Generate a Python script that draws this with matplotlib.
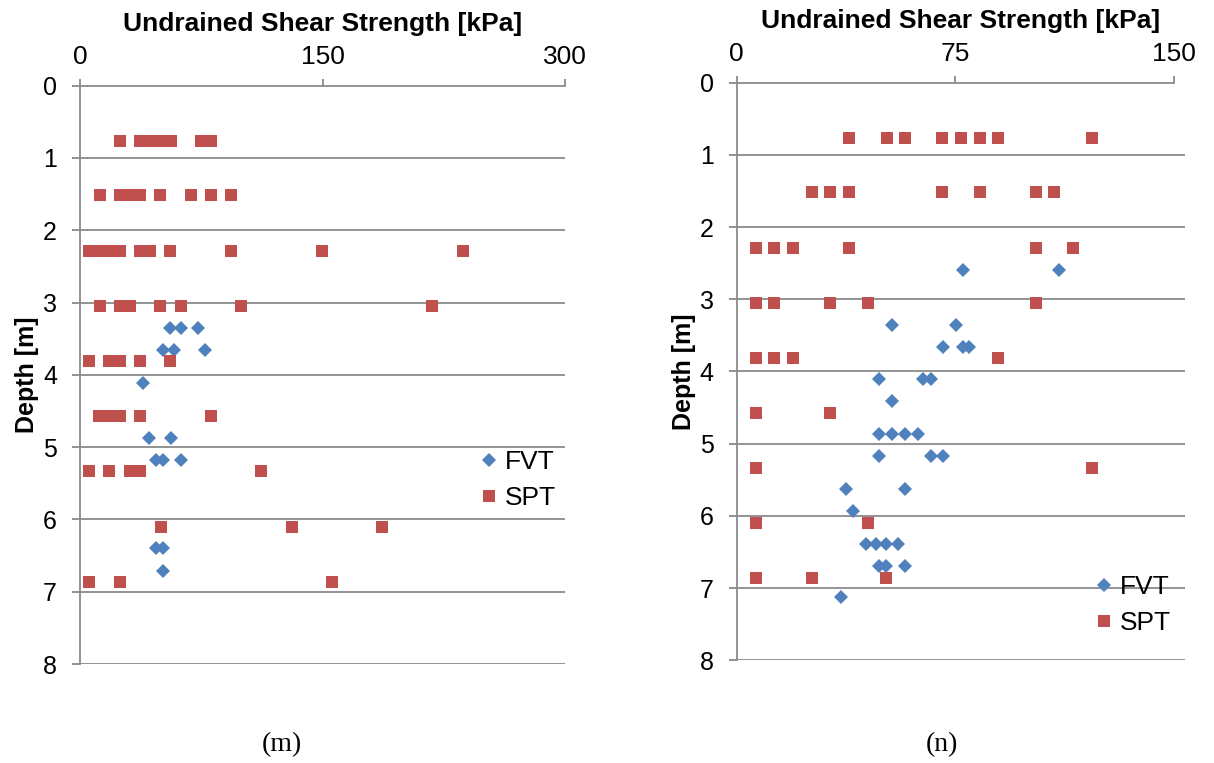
import matplotlib
matplotlib.use("Agg")
import matplotlib.pyplot as plt

plt.rcParams['font.family'] = ['Liberation Sans', 'DejaVu Sans']

# ---------------- data: panel (m) ----------------
m_spt_depth = [0.76]*7 + [1.52]*8 + [2.29]*10 + [3.05]*7 + [3.81]*5 + [4.57]*5 + [5.33]*5 + [6.10]*3 + [6.86]*3
m_spt_su = [25, 37, 43, 49.5, 56, 75, 81,
            12.4, 24.7, 31, 37, 49.5, 68.5, 81, 93.4,
            5.8, 12, 18, 24.7, 37, 43.3, 55.7, 93.4, 149.7, 237,
            12.4, 24.7, 31, 49.5, 62.3, 99.6, 218,
            5.8, 18, 24.7, 37, 55.7,
            12, 18, 24.7, 37, 80.8,
            5.8, 18, 31, 37, 112,
            49.9, 131, 187,
            5.8, 24.7, 156]
m_fvt_depth = [3.35]*3 + [3.66]*3 + [4.11] + [4.88]*2 + [5.18]*3 + [6.40]*2 + [6.71]
m_fvt_su = [55.7, 62.3, 73.2,
            51.5, 58.1, 77.3,
            38.8,
            42.9, 56.1,
            47, 51.5, 62.3,
            47, 51.5,
            51.5]

# ---------------- data: panel (n) ----------------
n_spt_depth = [0.76]*8 + [1.52]*7 + [2.29]*6 + [3.05]*5 + [3.81]*4 + [4.57]*2 + [5.33]*2 + [6.10]*2 + [6.86]*3
n_spt_su = [38.6, 51.5, 57.7, 70.5, 76.9, 83.4, 89.7, 121.8,
            25.7, 32.1, 38.5, 70.5, 83.4, 102.6, 109.0,
            6.6, 12.9, 19.4, 38.5, 102.6, 115.4,
            6.6, 12.9, 32.1, 44.9, 102.6,
            6.6, 12.9, 19.4, 89.7,
            6.6, 32.1,
            6.6, 121.8,
            6.6, 44.9,
            6.6, 25.7, 51.3]
n_fvt_depth = [2.59]*2 + [3.35]*2 + [3.66]*3 + [4.10]*3 + [4.41] + [4.87]*4 + [5.17]*3 + [5.63]*2 + [5.93] + [6.39]*4 + [6.70]*3 + [7.13]
n_fvt_su = [77.5, 110.7,
            53.2, 75.2,
            70.9, 77.5, 79.7,
            48.8, 64.0, 66.6,
            53.2,
            48.8, 53.2, 57.7, 62.1,
            48.8, 66.6, 70.9,
            37.6, 57.7,
            40.0,
            44.4, 47.7, 51.1, 55.4,
            48.8, 51.1, 57.7,
            35.7]

m_xticks = [0, 150, 300]
n_xticks = [0, 75, 150]
depth_ticks = [0, 1, 2, 3, 4, 5, 6, 7, 8]

xlabel = "Undrained Shear Strength [kPa]"
ylabel = "Depth [m]"

BLUE = '#4F81BD'
RED = '#C0504D'
GRID = '#8A8A8A'

W, H = 1214, 763
fig = plt.figure(figsize=(W/100, H/100), dpi=100)


def setup(ax, xticks, xmax, spine_end):
    ax.set_ylim(8, 0)
    ax.set_xlim(0, xmax)
    ax.set_xticks(xticks)
    ax.set_yticks(depth_ticks)
    ax.xaxis.tick_top()
    ax.xaxis.set_label_position('top')
    for s in ['bottom', 'right']:
        ax.spines[s].set_visible(False)
    for s in ['top', 'left']:
        ax.spines[s].set_color(GRID)
        ax.spines[s].set_linewidth(1.3)
    ax.spines['top'].set_bounds(0, spine_end)
    ax.tick_params(axis='x', direction='out', length=5, width=1.3, color=GRID,
                   labelsize=19, pad=7)
    ax.tick_params(axis='y', direction='out', length=5.5, width=1.3, color=GRID,
                   labelsize=18, pad=11)
    ax.grid(axis='y', color=GRID, linewidth=1.3)
    ax.grid(axis='x', visible=False)
    ax.yaxis.get_gridlines()[0].set_visible(False)
    ax.set_xlabel(xlabel, fontsize=19, fontweight='bold', labelpad=10)
    ax.set_ylabel(ylabel, fontsize=18, fontweight='bold', labelpad=3)
    ax.set_axisbelow(True)


def draw(ax, fvt_su, fvt_d, spt_su, spt_d):
    ax.plot(fvt_su, fvt_d, linestyle='none', marker='D', markersize=7.4,
            color=BLUE, markeredgewidth=0, label='FVT', clip_on=False, zorder=3)
    ax.plot(spt_su, spt_d, linestyle='none', marker='s', markersize=9.2,
            color=RED, markeredgewidth=0, label='SPT', clip_on=False, zorder=3)


axL = fig.add_axes([80/W, 1 - 664/H, 485/W, 578.4/H])
setup(axL, m_xticks, 300, 300)
draw(axL, m_fvt_su, m_fvt_depth, m_spt_su, m_spt_depth)
axL.legend(loc='upper left', bbox_to_anchor=(481/W, 1 - 450/H),
           bbox_transform=fig.transFigure, frameon=False, fontsize=19,
           handlelength=0.6, handletextpad=0.3, labelspacing=0.45,
           borderpad=0, borderaxespad=0)

axR = fig.add_axes([736.7/W, 1 - 660.3/H, 448.3/W, 577.6/H])
setup(axR, n_xticks, 448.3/2.915, 150)
draw(axR, n_fvt_su, n_fvt_depth, n_spt_su, n_spt_depth)
axR.legend(loc='upper left', bbox_to_anchor=(1096/W, 1 - 575/H),
           bbox_transform=fig.transFigure, frameon=False, fontsize=19,
           handlelength=0.6, handletextpad=0.3, labelspacing=0.45,
           borderpad=0, borderaxespad=0)

fig.text(282/W, 1 - 745/H, '(m)', ha='center', va='center',
         fontsize=20, family=['Liberation Serif', 'DejaVu Serif'])
fig.text(942/W, 1 - 745/H, '(n)', ha='center', va='center',
         fontsize=20, family=['Liberation Serif', 'DejaVu Serif'])

fig.savefig('out.png', dpi=100)
